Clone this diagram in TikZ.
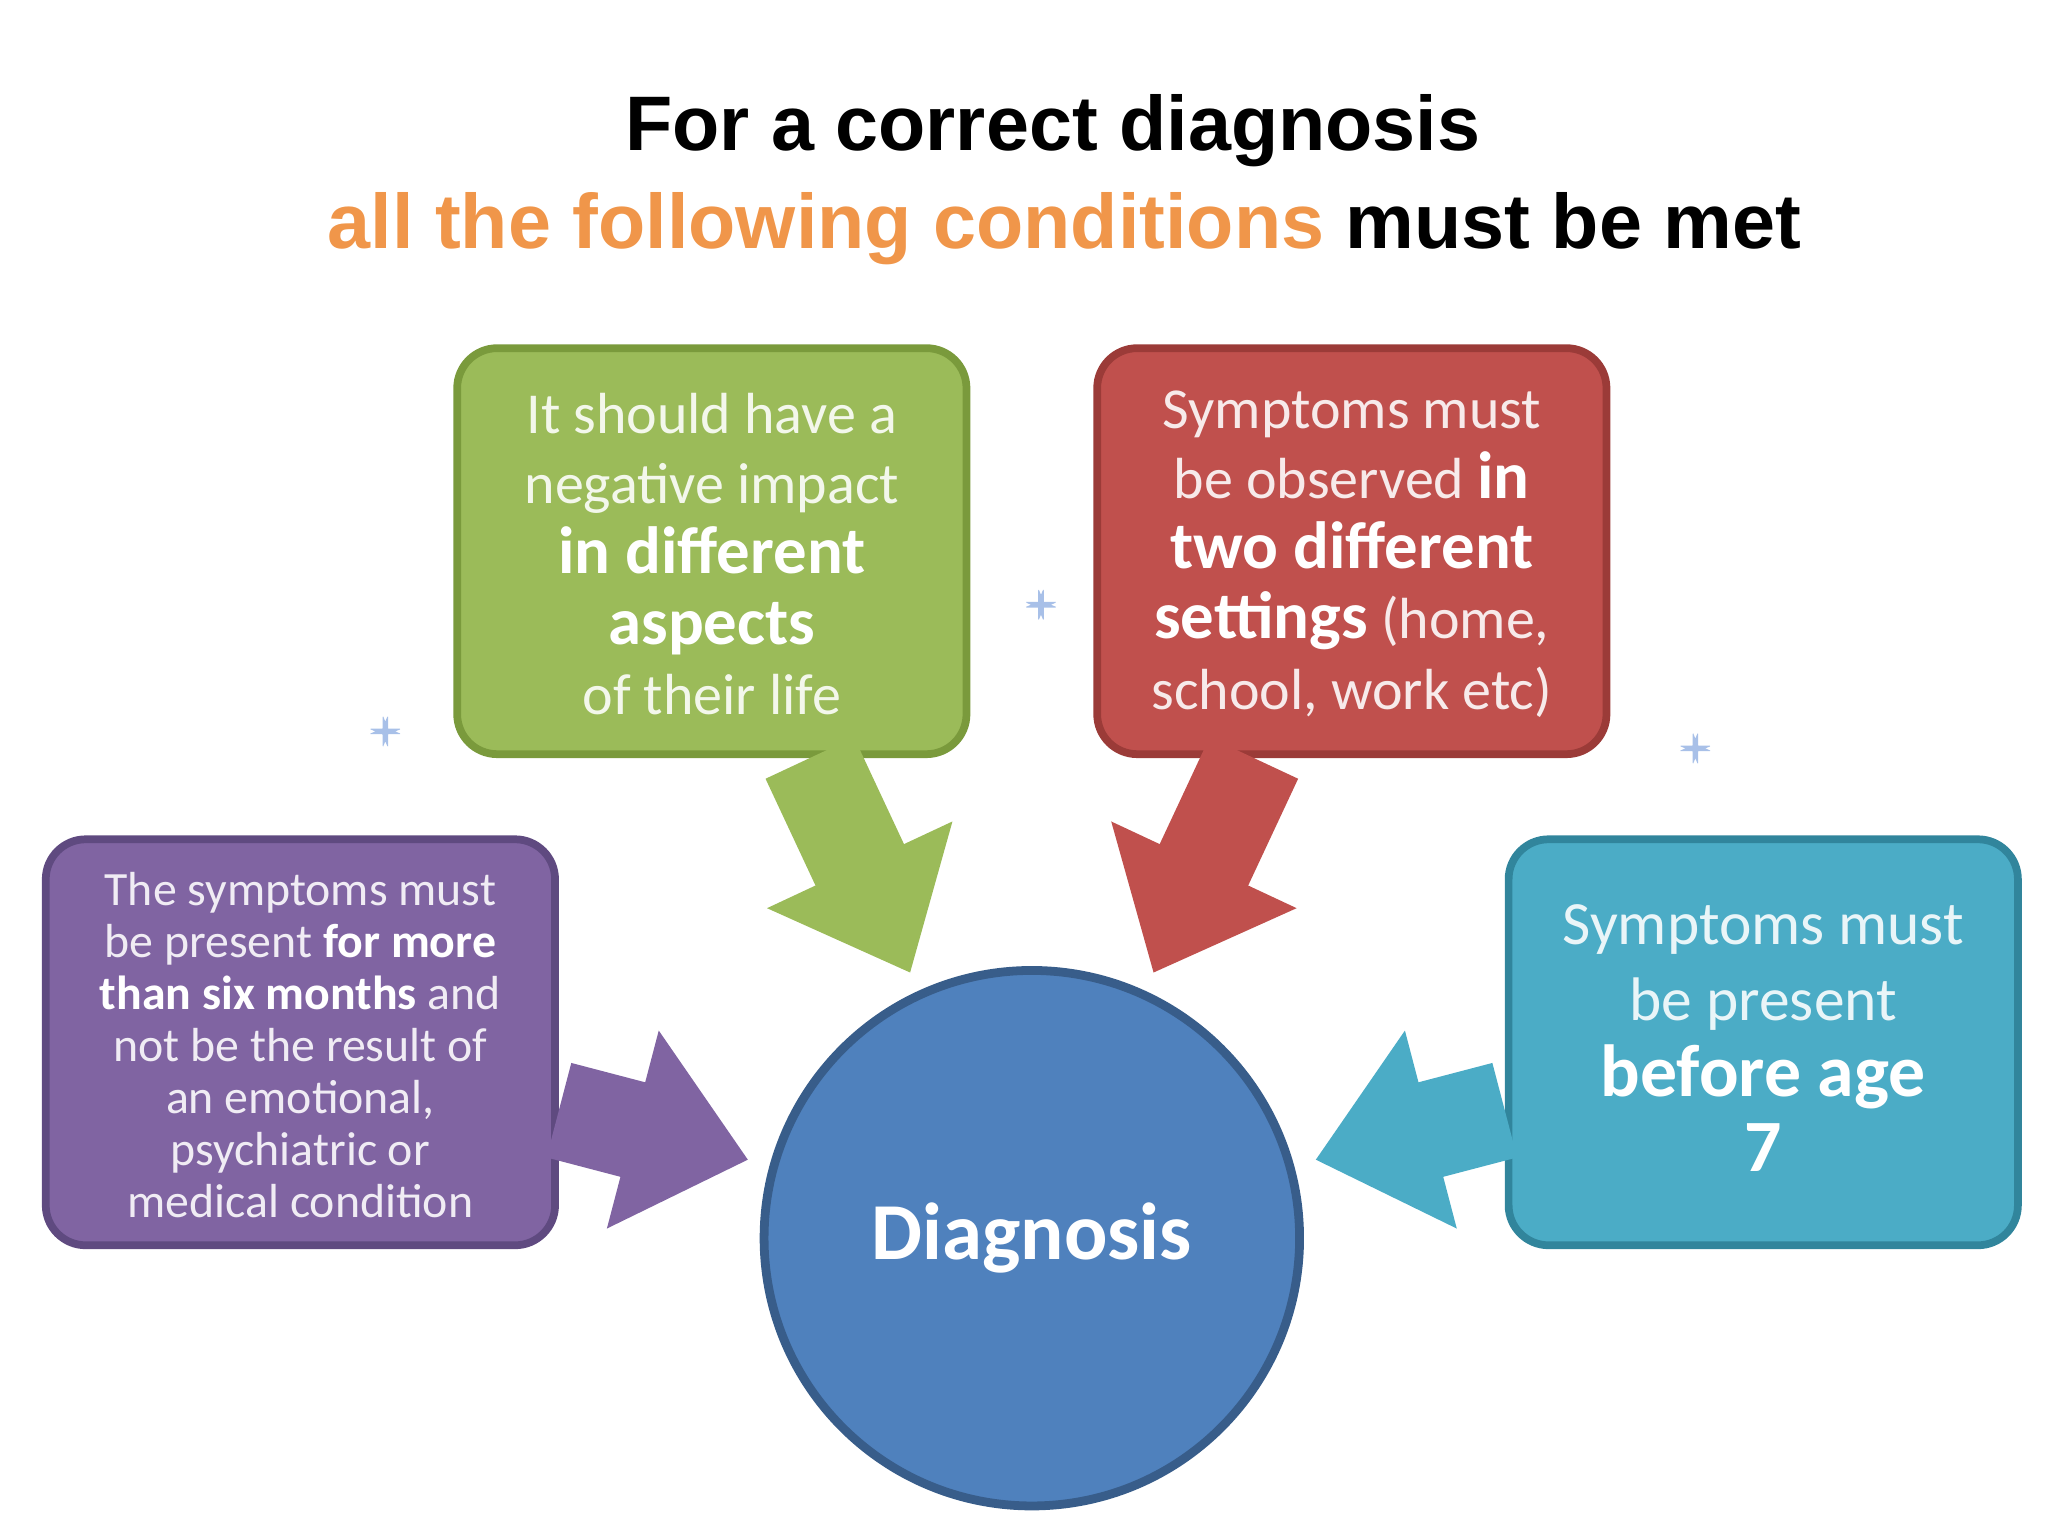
\documentclass[tikz,border=0pt]{standalone}
\usepackage{fontspec}
\setmainfont{Carlito}
\newfontfamily\titlefont{Liberation Sans}
\usetikzlibrary{arrows.meta,calc}
\definecolor{gfill}{HTML}{9BBB59}\definecolor{gline}{HTML}{7A9A3C}
\definecolor{rfill}{HTML}{C0504D}\definecolor{rline}{HTML}{9B3B38}
\definecolor{pfill}{HTML}{8064A2}\definecolor{pline}{HTML}{5F4A80}
\definecolor{tfill}{HTML}{4BACC6}\definecolor{tline}{HTML}{31859C}
\definecolor{cfill}{HTML}{4F81BD}\definecolor{cline}{HTML}{385D8A}
\definecolor{orng}{HTML}{F0964A}\definecolor{plusc}{HTML}{A8C0E8}
\tikzset{
 box/.style={rounded corners=0.4cm,line width=2.2pt,minimum width=5.093cm,minimum height=4.06cm,align=center,text=white},
 barrow/.style={line width=27.8pt,-{Triangle[width=56pt,length=34pt]}},
 plus/.pic={\draw[plusc,line width=1.3pt,fill=white,rounded corners=1pt] (-0.1,-0.4)--(0.1,-0.4)--(0.1,-0.1)--(0.4,-0.1)--(0.4,0.1)--(0.1,0.1)--(0.1,0.4)--(-0.1,0.4)--(-0.1,0.1)--(-0.4,0.1)--(-0.4,-0.1)--(-0.1,-0.1)--cycle;}
}
\newcommand{\bw}[2]{\textcolor{white}{\bfseries\fontsize{#1}{#1}\selectfont #2}}
\begin{document}
\begin{tikzpicture}[x=0.01306cm,y=-0.01306cm]
\useasboundingbox (0,0) rectangle (1568,1176);
\node[font=\titlefont\bfseries\fontsize{22}{26}\selectfont] (t1) at (806,100) {For a correct diagnosis};
\node[font=\titlefont\bfseries\fontsize{22}{26}\selectfont] (t2) at (815,175) {\textcolor{orng}{all the following conditions} must be met};
\node[circle,fill=cfill,draw=cline,line width=2.5pt,minimum size=5.355cm,text=white,font=\bfseries\fontsize{23}{26}\selectfont] (c) at (790,948) {Diagnosis};
\node[box,fill=gfill,draw=gline] (g) at (545,422) {};
\node[box,fill=rfill,draw=rline] (r) at (1035,422) {};
\node[box,fill=pfill,draw=pline] (p) at (230,798) {};
\node[box,fill=tfill,draw=tline] (tb) at (1350,798) {};
\coordinate (gt) at (697,745);
\coordinate (rt) at (883,745);
\coordinate (pt) at (573,888);
\coordinate (tt) at (1007,888);
\draw[barrow,gfill] ($(g.south)+(75,0)$) -- (gt);
\draw[barrow,rfill] ($(r.south)+(-75,0)$) -- (rt);
\draw[barrow,pfill] ($(p.east)+(0,52)$) -- (pt);
\draw[barrow,tfill] ($(tb.west)+(0,52)$) -- (tt);
\node[align=center,text=white!88!gfill,font=\fontsize{16.5}{20}\selectfont] (gtx) at (545,424) {It should have a\\negative impact\\\bw{19}{in different}\\\bw{19}{aspects}\\of their life};
\node[align=center,text=white!88!rfill,font=\fontsize{16.5}{20}\selectfont] (rtx) at (1035,424) {Symptoms must\\be observed \bw{19}{in}\\\bw{19}{two different}\\\bw{19}{settings} (home,\\school, work etc)};
\node[align=center,text=white!88!pfill,font=\fontsize{13.6}{14.8}\selectfont] (ptx) at (230,800) {The symptoms must\\be present \bw{13.6}{for more}\\\bw{13.6}{than six months} and\\not be the result of\\an emotional,\\psychiatric or\\medical condition};
\node[align=center,text=white!88!tfill,font=\fontsize{17.5}{21.5}\selectfont] (ttx) at (1350,795) {Symptoms must\\be present\\\bw{21}{before age}\\\bw{21}{7}};
\pic at (295,560) {plus};
\pic at (797,463) {plus};
\pic at (1298,573) {plus};
\end{tikzpicture}
\end{document}
